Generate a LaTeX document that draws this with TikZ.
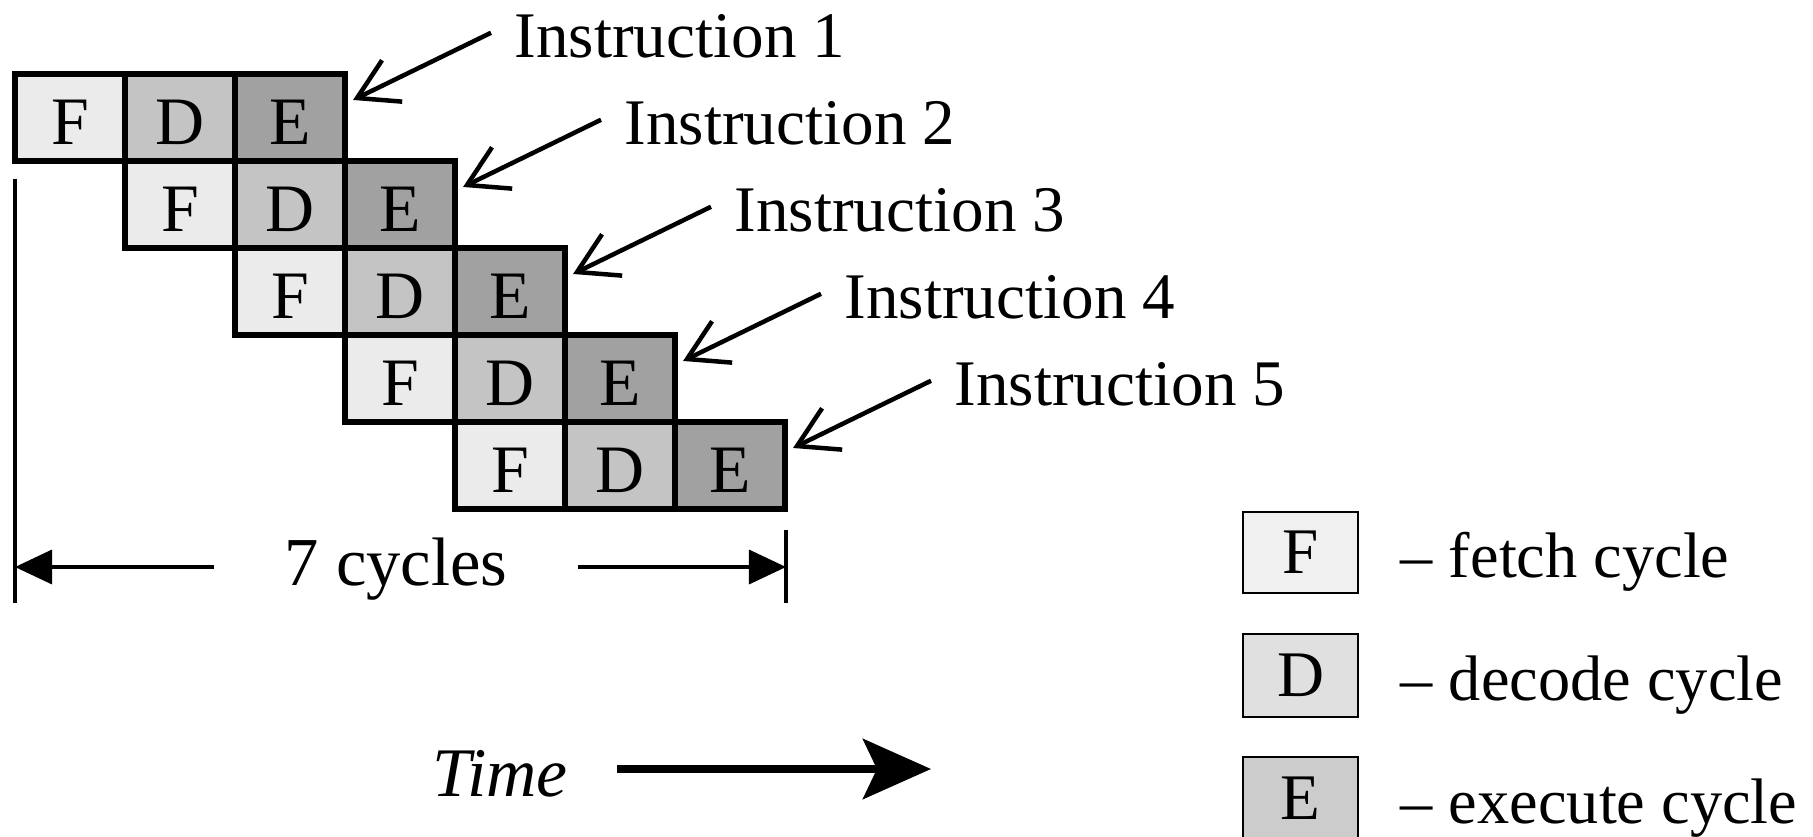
\documentclass[tikz,border=0pt]{standalone}
\usepackage{fontspec}
\setmainfont{Liberation Serif}
\usetikzlibrary{arrows.meta,calc}

% stage fills in the pipeline and in the key
\definecolor{fillF}{gray}{0.92}
\definecolor{fillD}{gray}{0.77}
\definecolor{fillE}{gray}{0.63}
\definecolor{keyF}{gray}{0.94}
\definecolor{keyD}{gray}{0.88}
\definecolor{keyE}{gray}{0.80}

\tikzset{
  stagecell/.style={draw, line width=0.06cm, minimum width=1.1cm, minimum height=0.87cm,
    inner sep=0pt, text height=0.53cm, text depth=0pt, font=\fontsize{19.3}{23}\selectfont},
  fcell/.style={stagecell, fill=fillF},
  dcell/.style={stagecell, fill=fillD},
  ecell/.style={stagecell, fill=fillE},
  instrlabel/.style={anchor=base west, inner sep=0pt, font=\fontsize{18.5}{22}\selectfont},
  instrarrow/.style={line width=0.045cm, -{Straight Barb[length=0.39cm, width=0.46cm]}},
  keybox/.style={draw, line width=0.02cm, minimum width=1.15cm, inner sep=0pt,
    font=\fontsize{18.5}{22}\selectfont},
  keytext/.style={anchor=base west, inner sep=0pt, font=\fontsize{18.3}{22}\selectfont},
  dimtext/.style={inner ysep=0pt, inner xsep=0.7cm, font=\fontsize{19.5}{23}\selectfont},
  dimline/.style={line width=0.035cm, -{Triangle[length=0.37cm, width=0.34cm]}},
  dimtick/.style={line width=0.045cm},
  timearrow/.style={line width=0.08cm, -{Stealth[length=0.68cm, width=0.6cm, inset=0.14cm]}},
}

\begin{document}
\begin{tikzpicture}[x=0.01cm, y=-0.01cm]
\useasboundingbox (0,0) rectangle (1813,837);

% five overlapping fetch/decode/execute rows
\foreach \r in {0,...,4} {
  \node[fcell] (F\r) at (70+110*\r, 117.5+87*\r) {F};
  \node[dcell] (D\r) at (180+110*\r, 117.5+87*\r) {D};
  \node[ecell] (E\r) at (290+110*\r, 117.5+87*\r) {E};
}

% instruction labels with arrows to the end of each row
\foreach \r/\n in {0/1,1/2,2/3,3/4,4/5} {
  \node[instrlabel] (I\r) at (514+110*\r, 58+87*\r) {Instruction \n};
  \draw[instrarrow] ([shift={(-23,-4)}]I\r.west) -- ([shift={(5,29)}]E\r.north east);
}

% total length of the pipeline
\coordinate (tickLtop) at (15,179);
\coordinate (tickLbot) at (15,603);
\coordinate (tickRtop) at (786,530);
\coordinate (tickRbot) at (786,603);
\draw[dimtick] (tickLtop) -- (tickLbot);
\draw[dimtick] (tickRtop) -- (tickRbot);
\node[dimtext] (cyc) at (396,569) {7 cycles};
\coordinate (dimL) at (15,567);
\coordinate (dimR) at (786,567);
\draw[dimline] (cyc.west |- dimL) -- (dimL);
\draw[dimline] (cyc.east |- dimR) -- (dimR);

% time direction
\node[inner ysep=0pt, inner xsep=0.49cm, font=\fontsize{19.8}{23}\selectfont\itshape] (time) at (500,774) {Time};
\coordinate (timeTip) at (931,769);
\draw[timearrow] (time.east |- timeTip) -- (timeTip);

% key
\node[keybox, fill=keyF, minimum height=0.81cm] (kF) at (1300.5,552.5) {F};
\node[keybox, fill=keyD, minimum height=0.83cm] (kD) at (1300.5,675.5) {D};
\node[keybox, fill=keyE, minimum height=0.83cm] (kE) at (1300.5,798.5) {E};
\node[keytext] (tF) at (1400,577) {\textendash\ fetch cycle};
\node[keytext] (tD) at (1400,700) {\textendash\ decode cycle};
\node[keytext] (tE) at (1400,823) {\textendash\ execute cycle};
\end{tikzpicture}
\end{document}
